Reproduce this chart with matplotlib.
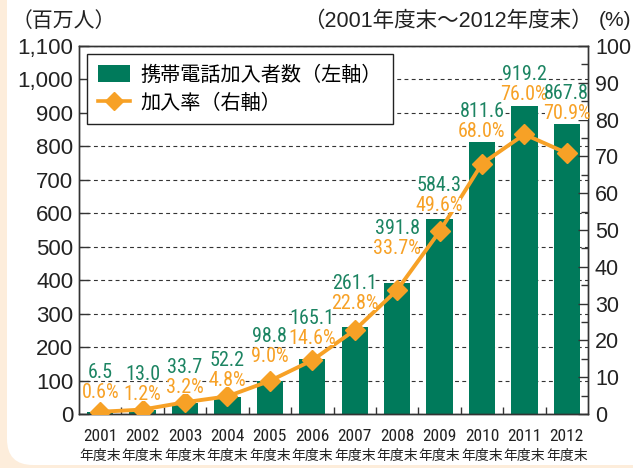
import matplotlib
matplotlib.use('Agg')
import matplotlib.pyplot as plt
import numpy as np
from matplotlib.patches import FancyBboxPatch, Patch
from matplotlib.lines import Line2D
from matplotlib.ticker import MultipleLocator, FuncFormatter
from matplotlib.transforms import IdentityTransform
import logging
logging.getLogger('matplotlib.font_manager').setLevel(logging.ERROR)


years = ['2001', '2002', '2003', '2004', '2005', '2006',
         '2007', '2008', '2009', '2010', '2011', '2012']
subscribers = [6.5, 13.0, 33.7, 52.2, 98.8, 165.1, 261.1, 391.8, 584.3, 811.6, 919.2, 867.8]
rate = [0.6, 1.2, 3.2, 4.8, 9.0, 14.6, 22.8, 33.7, 49.6, 68.0, 76.0, 70.9]
sub_labels = ['6.5', '13.0', '33.7', '52.2', '98.8', '165.1',
              '261.1', '391.8', '584.3', '811.6', '919.2', '867.8']
rate_labels = ['0.6%', '1.2%', '3.2%', '4.8%', '9.0%', '14.6%',
               '22.8%', '33.7%', '49.6%', '68.0%', '76.0%', '70.9%']

# gap (pixels) between bar top and the baseline of the % label
label_gap = [14, 10, 10, 11, 19, 15, 18, 29, 8, 5, 6, 5]

green = '#007a5b'
green_txt = '#1c8462'
orange = '#f7a126'
peach = '#fdeddb'
dark = '#333333'

JP = ['Liberation Sans', 'Noto Sans CJK JP', 'DejaVu Sans']
NARROW = ['Roboto Condensed', 'Archivo Narrow', 'PT Sans Narrow', 'Liberation Sans Narrow',
          'Noto Sans CJK JP', 'DejaVu Sans']
plt.rcParams['font.family'] = JP

fig = plt.figure(figsize=(6.33, 4.68), dpi=100)
fig.patch.set_facecolor(peach)
panel = FancyBboxPatch((7, 3), 800, 600, boxstyle='round,pad=0,rounding_size=26',
                       transform=IdentityTransform(), facecolor='white',
                       edgecolor='none', zorder=-10)
fig.add_artist(panel)

ax = fig.add_axes([79 / 633, 1 - 414 / 468, 509 / 633, 368 / 468])
ax2 = ax.twinx()

x = np.arange(len(years))
ax.bar(x, subscribers, width=0.62, color=green, zorder=2)
ax.set_xlim(-0.5, len(years) - 0.5)
ax.set_ylim(0, 1100)
ax.yaxis.set_major_locator(MultipleLocator(100))
ax.yaxis.set_major_formatter(FuncFormatter(lambda v, p: f'{int(v):,}'))
ax.set_axisbelow(True)
ax.grid(axis='y', color=dark, linestyle=(0, (3.5, 3)), linewidth=0.8)

ax2.plot(x, rate, color=orange, linewidth=2.8, marker='D', markersize=10,
         markeredgecolor=orange, zorder=3)
ax2.set_ylim(0, 100)
ax2.yaxis.set_major_locator(MultipleLocator(10))
ax2.yaxis.set_minor_locator(MultipleLocator(5))

for a in (ax, ax2):
    for s in a.spines.values():
        s.set_color(dark)
        s.set_linewidth(1.0)
ax.tick_params(axis='y', direction='in', length=7, width=1, color=dark,
               labelsize=16, pad=4, labelcolor='#222222')
ax2.tick_params(axis='y', which='major', direction='in', length=7, width=1,
                color=dark, labelsize=15.5, pad=5, labelcolor='#222222')
ax2.tick_params(axis='y', which='minor', direction='in', length=5, width=1, color=dark)

# year on the tick, "年度末" as a second smaller line beneath it
ax.set_xticks(x)
ax.set_xticklabels(years, family=NARROW, fontsize=12.5, color='#222222')
ax.set_xticks(x[:-1] + 0.5, minor=True)
ax.tick_params(axis='x', which='major', length=0, pad=11)
ax.tick_params(axis='x', which='minor', direction='in', length=5, width=1, color=dark)
for i in range(len(years)):
    ax.annotate('年度末', (x[i], 0), xycoords=('data', 'axes fraction'),
                xytext=(0, -35), textcoords='offset pixels', ha='center', va='top',
                fontsize=10, family=NARROW, color='#222222', annotation_clip=False)

# value labels, drawn on the top axes so they sit over the line
box = dict(boxstyle='square,pad=-0.12', facecolor='white', edgecolor='none')
for i in range(len(years)):
    ax2.annotate(rate_labels[i], (x[i], subscribers[i]), xycoords=ax.transData,
                 xytext=(0, label_gap[i]), textcoords='offset pixels',
                 ha='center', va='baseline', color=orange, fontsize=14.5,
                 family=NARROW, zorder=5, bbox=box)
    ax2.annotate(sub_labels[i], (x[i], subscribers[i]), xycoords=ax.transData,
                 xytext=(0, label_gap[i] + 20), textcoords='offset pixels',
                 ha='center', va='baseline', color=green_txt, fontsize=14.5,
                 family=NARROW, zorder=6, bbox=box)

handles = [Patch(facecolor=green, edgecolor='none'),
           Line2D([], [], color=orange, linewidth=2.6, marker='D', markersize=9)]
leg = ax2.legend(handles, ['携帯電話加入者数（左軸）', '加入率（右軸）'],
                 loc='upper left', bbox_to_anchor=(0.016, 0.978), borderaxespad=0,
                 fancybox=False, framealpha=1, edgecolor='#222222',
                 prop={'family': JP, 'size': 14.5}, handlelength=1.6,
                 handleheight=0.9, labelspacing=0.45, borderpad=0.55, handletextpad=0.5)
leg.get_frame().set_linewidth(1.0)
leg.set_zorder(10)

fig.text(12 / 633, 1 - 21 / 468, '（百万人）', fontsize=15, va='center', color='#222222')
fig.text(593 / 633, 1 - 21 / 468, '（2001年度末～2012年度末）', fontsize=15.5,
         ha='right', va='center', color='#222222')
fig.text(631 / 633, 1 - 21 / 468, '(%)', fontsize=15, ha='right', va='center',
         color='#222222')

fig.savefig('out.png', dpi=100, facecolor=fig.get_facecolor())
